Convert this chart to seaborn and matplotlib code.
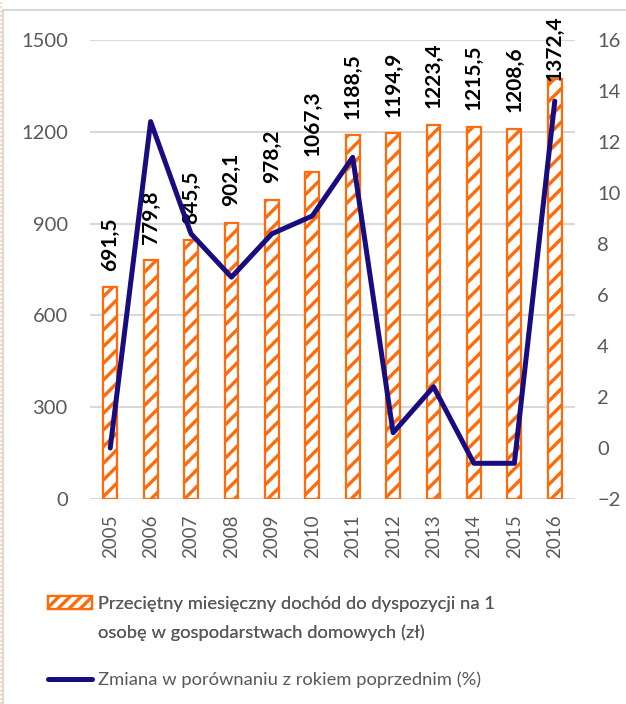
import numpy as np
import pandas as pd
import matplotlib
matplotlib.use("Agg")
import matplotlib.pyplot as plt
from matplotlib.patches import Patch
from matplotlib.lines import Line2D
import seaborn as sns

years = ["2005", "2006", "2007", "2008", "2009", "2010",
         "2011", "2012", "2013", "2014", "2015", "2016"]
income = [691.5, 779.8, 845.5, 902.1, 978.2, 1067.3,
          1188.5, 1194.9, 1223.4, 1215.5, 1208.6, 1372.4]
change_pct = [0.0, 12.8, 8.4, 6.7, 8.4, 9.1, 11.4, 0.6, 2.4, -0.6, -0.6, 13.6]

income_label = "Przeciętny miesięczny dochód do dyspozycji na 1"
income_label_2 = "osobę w gospodarstwach domowych (zł)"
change_label = "Zmiana w porównaniu z rokiem poprzednim (%)"

ORANGE = "#FF6A0A"
NAVY = "#170C80"
GREY_TXT = "#595959"
GRID = "#D9D9D9"

sns.set_theme(style="white")
plt.rcParams["font.family"] = ["Lato", "DejaVu Sans"]
plt.rcParams["hatch.linewidth"] = 2.4
plt.rcParams["hatch.color"] = ORANGE

df = pd.DataFrame({"rok": years, "dochod": income, "zmiana": change_pct})

fig = plt.figure(figsize=(6.26, 7.04), dpi=100)
fig.patch.set_facecolor("white")
ax = fig.add_axes([0.1438, 0.2912, 0.7747, 0.652])

sns.barplot(data=df, x="rok", y="dochod", ax=ax, color="white",
            width=0.34, edgecolor=ORANGE, linewidth=1.6, hatch="//",
            zorder=3)

ax.set_ylim(0, 1500)
ax.set_yticks(np.arange(0, 1501, 300))
ax.yaxis.grid(True, color=GRID, linewidth=1.5, zorder=0)
ax.set_axisbelow(True)
for s in ax.spines.values():
    s.set_visible(False)
ax.set_xlabel("")
ax.set_ylabel("")
ax.tick_params(axis="y", length=0, pad=16, labelsize=14.5, labelcolor=GREY_TXT)
ax.tick_params(axis="x", length=0, pad=11, labelsize=13.5, labelcolor=GREY_TXT,
               labelrotation=90)

# value labels above the bars (the tallest one is tucked down against its bar)
fmt = [f"{v:.1f}".replace(".", ",") for v in income]
cont = ax.containers[0]
ax.bar_label(cont, labels=fmt[:-1] + [""], rotation=90, padding=12,
             fontsize=15, fontweight="bold", color="black")
ax.bar_label(cont, labels=[""] * (len(fmt) - 1) + [fmt[-1]], rotation=90,
             padding=-1.5, fontsize=15, fontweight="bold", color="black")

ax2 = ax.twinx()
sns.lineplot(x=np.arange(len(years)), y=df["zmiana"], ax=ax2, color=NAVY,
             linewidth=3.6, zorder=5)
ax2.set_ylim(-2, 16)
ax2.set_yticks(np.arange(-2, 17, 2))
ax2.set_ylabel("")
for s in ax2.spines.values():
    s.set_visible(False)
ax2.tick_params(axis="y", length=0, pad=16, labelsize=14.5, labelcolor=GREY_TXT)
ax2.grid(False)
ax.set_xlim(-0.5, len(years) - 0.5)

# legend
leg1 = fig.legend(
    handles=[Patch(facecolor="white", edgecolor=ORANGE, hatch="///", linewidth=1.6),
             Patch(facecolor="none", edgecolor="none")],
    labels=[income_label, income_label_2],
    loc="upper left", bbox_to_anchor=(0.0767, 0.154), frameon=False,
    fontsize=13.2, labelcolor=GREY_TXT, handlelength=2.4, handleheight=0.75,
    handletextpad=0.3, labelspacing=0.72, borderpad=0, borderaxespad=0)
fig.add_artist(leg1)
fig.legend(
    handles=[Line2D([], [], color=NAVY, linewidth=3.6, solid_capstyle="round")],
    labels=[change_label],
    loc="upper left", bbox_to_anchor=(0.0767, 0.046), frameon=False,
    fontsize=13.2, labelcolor=GREY_TXT, handlelength=2.4,
    handletextpad=0.3, borderpad=0, borderaxespad=0)

# chart frame edges
W, H = 626, 704
fig.add_artist(Line2D([3 / W, 1], [1 - 10 / H, 1 - 10 / H], color="#D9D9D9",
                      linewidth=1.5, transform=fig.transFigure))
fig.add_artist(Line2D([3 / W, 3 / W], [0, 1 - 10 / H], color="#D9D9D9",
                      linewidth=1.5, transform=fig.transFigure))
fig.add_artist(Line2D([1 / W, 1 / W], [0, 1], color="#F8C8A8",
                      linewidth=1.2, linestyle=(0, (1, 1.5)),
                      transform=fig.transFigure))

fig.savefig("out.png", dpi=100)
